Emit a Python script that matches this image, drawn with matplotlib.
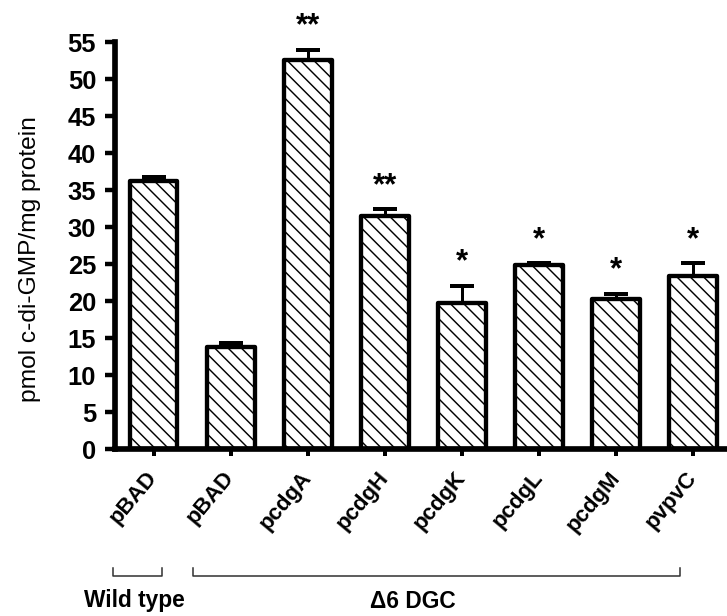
import matplotlib.pyplot as plt
from matplotlib.lines import Line2D

plt.rcParams['font.family'] = 'Liberation Sans'
plt.rcParams['hatch.linewidth'] = 1.3

# data
labels = ['pBAD', 'pBAD', 'pcdgA', 'pcdgH', 'pcdgK', 'pcdgL', 'pcdgM', 'pvpvC']
values = [36.2, 13.8, 52.6, 31.5, 19.8, 24.9, 20.3, 23.4]
errors = [0.6, 0.6, 1.3, 0.9, 2.3, 0.2, 0.7, 1.7]
stars = ['', '', '**', '**', '*', '*', '*', '*']

W, H = 727, 616
fig = plt.figure(figsize=(W / 80, H / 80), dpi=80)
ax = fig.add_axes([115 / W, 1 - 449.3 / H, 1 - 115 / W, 407.3 / H])

x = list(range(len(values)))
ax.bar(x, values, width=0.62, color='white', edgecolor='black', linewidth=3.9,
       hatch='\\\\', joinstyle='round', zorder=2)
ax.errorbar(x, values, yerr=[[0] * len(errors), errors], fmt='none', ecolor='black',
            elinewidth=2.7, capsize=11, capthick=3.6, zorder=1)

for xi, v, e, s in zip(x, values, errors, stars):
    if s:
        ax.text(xi, v + e + 2.1, s, ha='center', va='baseline', fontsize=28,
                fontweight='bold', clip_on=False)

ax.set_xlim(-0.5, 7.44)
ax.set_ylim(0, 55)
ax.set_yticks(range(0, 56, 5))
ax.set_xticks(x)
ax.set_xticklabels(labels, rotation=50, ha='right', va='center', rotation_mode='anchor',
                   fontsize=20, fontweight='bold')
for lab in ax.get_yticklabels():
    lab.set_fontweight('bold')

for side in ['top', 'right']:
    ax.spines[side].set_visible(False)
for side in ['left', 'bottom']:
    ax.spines[side].set_linewidth(5.1)
ax.tick_params(axis='y', length=9, width=4, pad=8, labelsize=23)
ax.tick_params(axis='x', length=6.3, width=3.6, pad=16)

fig.text(30 / W, 1 - 259 / H, 'pmol c-di-GMP/mg protein', rotation=90,
         ha='center', va='center', fontsize=22)


def bracket(x0, x1, y, h=8):
    xs = [x0 / W, x0 / W, x1 / W, x1 / W]
    ys = [1 - (y - h) / H, 1 - y / H, 1 - y / H, 1 - (y - h) / H]
    fig.add_artist(Line2D(xs, ys, color='#333333', lw=1.4))


bracket(113, 162, 576)
bracket(193, 680, 576)
fig.text(134 / W, 1 - 601 / H, 'Wild type', ha='center', va='center',
         fontsize=20.5, fontweight='bold')
fig.text(413 / W, 1 - 601 / H, '\u03946 DGC', ha='center', va='center',
         fontsize=20.5, fontweight='bold')

fig.savefig('out.png', dpi=80)
